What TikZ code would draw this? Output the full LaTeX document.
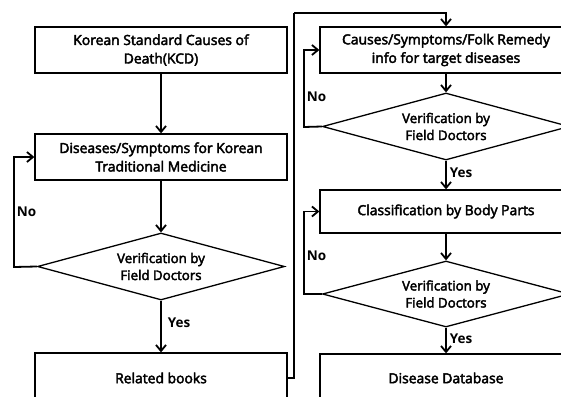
\documentclass[tikz,border=0pt]{standalone}
\usepackage{fontspec}
\setmainfont{Open Sans}
\newfontfamily\boxfont{Open Sans}[FakeBold=3]
\usetikzlibrary{shapes.geometric,arrows.meta}
\begin{document}
\begin{tikzpicture}[x=1pt,y=-1pt,
  font=\boxfont\fontsize{13.9}{18.5}\selectfont,
  stepbox/.style={draw, line width=1.3pt, minimum width=252pt, inner sep=0pt, align=center},
  check/.style={draw, diamond, line width=1.3pt, aspect=3.7, minimum width=247pt,
    minimum height=67pt, inner sep=0pt, align=center, font=\boxfont\fontsize{13.3}{17}\selectfont},
  flow/.style={line width=1.8pt, -{Straight Barb[length=6pt,width=10pt,line width=1.8pt]}},
  link/.style={line width=1.8pt},
  lbl/.style={font=\rmfamily\fontsize{13.5}{15}\selectfont\bfseries, inner sep=1pt}]
\useasboundingbox (0,0) rectangle (561,396);
\clip (0,0) rectangle (561,396);

% left column
\node[stepbox, minimum height=46pt] (kcd) at (161,50) {Korean Standard Causes of\\Death(KCD)};
\node[stepbox, minimum height=46pt] (ktm) at (161,157) {Diseases/Symptoms for Korean\\Traditional Medicine};
\node[check] (v1) at (161,266.5) {Verification by\\Field Doctors};
\node[stepbox, minimum height=50pt] (books) at (161,378) {Related books};

% right column
\node[stepbox, minimum height=46pt] (folk) at (446,50) {Causes/Symptoms/Folk Remedy\\info for target diseases};
\node[check] (v2) at (446,126.5) {Verification by\\Field Doctors};
\node[stepbox, minimum height=43pt] (body) at (446,211.5) {Classification by Body Parts};
\node[check, minimum height=66pt] (v3) at (446,294) {Verification by\\Field Doctors};
\node[stepbox, minimum height=48pt] (db) at (446,378) {Disease Database};

% turning points of the loops
\coordinate (n1) at (14,267);
\coordinate (n2) at (304,127);
\coordinate (n3) at (304,294);
\coordinate (j1) at (294,378);
\coordinate (j2) at (294,13);

% main flow
\draw[flow] (kcd) -- (ktm);
\draw[flow] (ktm) -- (v1);
\draw[flow] (v1) -- node[lbl, right=5pt, pos=0.42] {Yes} (books);
\draw[link] (books.east) -- (j1) -- (j2);
\draw[flow] (j2) -| (folk.north);
\draw[flow] (folk) -- (v2);
\draw[flow] (v2) -- node[lbl, right=2pt, pos=0.42] {Yes} (body);
\draw[flow] (body) -- (v3);
\draw[flow] (v3) -- node[lbl, right=2pt, pos=0.42] {Yes} (db);

% feedback loops
\draw[flow] (v1.west) -- (n1) |- node[lbl, pos=0.25, anchor=west, xshift=1pt] {No} (ktm.west);
\draw[flow] (v2.west) -- (n2) |- node[lbl, pos=0.195, anchor=west, xshift=1pt] {No} (folk.west);
\draw[flow] (v3.west) -- (n3) |- node[lbl, pos=0.23, anchor=west, xshift=1pt] {No} (body.west);
\end{tikzpicture}
\end{document}
